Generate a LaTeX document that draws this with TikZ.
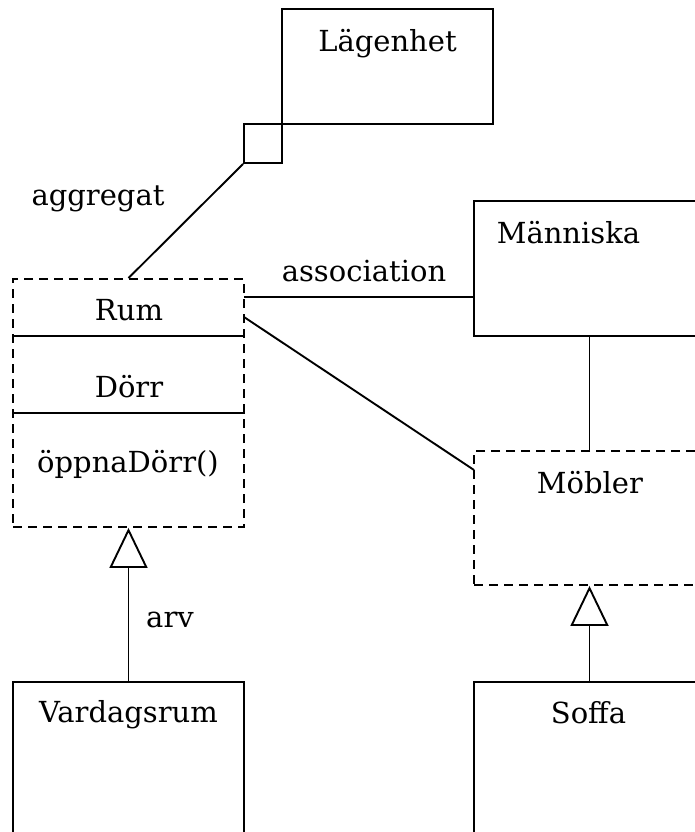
\documentclass[tikz,border=0pt]{standalone}
\usepackage{fontspec}
\setmainfont{DejaVu Serif}
\usetikzlibrary{arrows.meta,positioning,calc}

\begin{document}
\begin{tikzpicture}[x=1pt, y=-1pt, line width=1.9pt,
  box/.style={draw, rectangle, minimum width=231pt, inner sep=0pt},
  dbox/.style={box, dash pattern=on 9pt off 6pt},
  title/.style={font=\fontsize{29}{34}\selectfont, inner sep=0pt, anchor=base},
  arv/.style={-{Triangle[open, length=40pt, width=38pt]}}]
  \useasboundingbox (0,0) rectangle (695,832);
  % Boxes
  \node[box, minimum width=211pt, minimum height=115pt] (lagenhet) at (387.5, 66.5) {};
  \node[box, minimum width=38pt, minimum height=39pt] (agg) at (263, 143.5) {};
  \node[dbox, minimum height=248pt] (rum) at (128.5, 403) {};
  \node[box, minimum height=135pt] (manniska) at (589.5, 268.5) {};
  \node[dbox, minimum height=134pt] (mobler) at (589.5, 518) {};
  \node[box, minimum height=180pt] (vardagsrum) at (128.5, 772) {};
  \node[box, minimum height=180pt] (soffa) at (589.5, 772) {};
  % Rum compartments
  \coordinate (sep1) at (0, 336);
  \coordinate (sep2) at (0, 413);
  \draw[line width=2pt] (rum.west |- sep1) -- (rum.east |- sep1);
  \draw[line width=2pt] (rum.west |- sep2) -- (rum.east |- sep2);
  % Texts
  \node[title] (lagenhet-t) at (387.5, 52) {Lägenhet};
  \node[title] (rum-t) at (129, 320) {Rum};
  \node[title] (dorr-t) at (129, 397) {Dörr};
  \node[title] (oppna-t) at (128, 472) {öppnaDörr()};
  \node[title] (manniska-t) at (568.5, 243) {Människa};
  \node[title] (mobler-t) at (590, 493) {Möbler};
  \node[title] (vardagsrum-t) at (128.5, 722) {Vardagsrum};
  \node[title] (soffa-t) at (588.5, 723) {Soffa};
  % Labels
  \node[title] (aggregat) at (98, 205) {aggregat};
  \node[title] (association) at (364, 281) {association};
  \node[title] (arv-t) at (170, 627) {arv};
  % Connectors
  \coordinate (assoc-a) at (244, 297);
  \coordinate (rm-a) at (244, 317);
  \coordinate (rm-b) at (474, 470);
  \draw (agg.south west) -- (rum.north);
  \draw (assoc-a) -- (assoc-a -| manniska.west);
  \draw (rm-a) -- (rm-b);
  \draw (manniska.south) -- (mobler.north);
  \draw[arv] (vardagsrum.north) -- (rum.south);
  \draw[arv] (soffa.north) -- (mobler.south);
\end{tikzpicture}
\end{document}
